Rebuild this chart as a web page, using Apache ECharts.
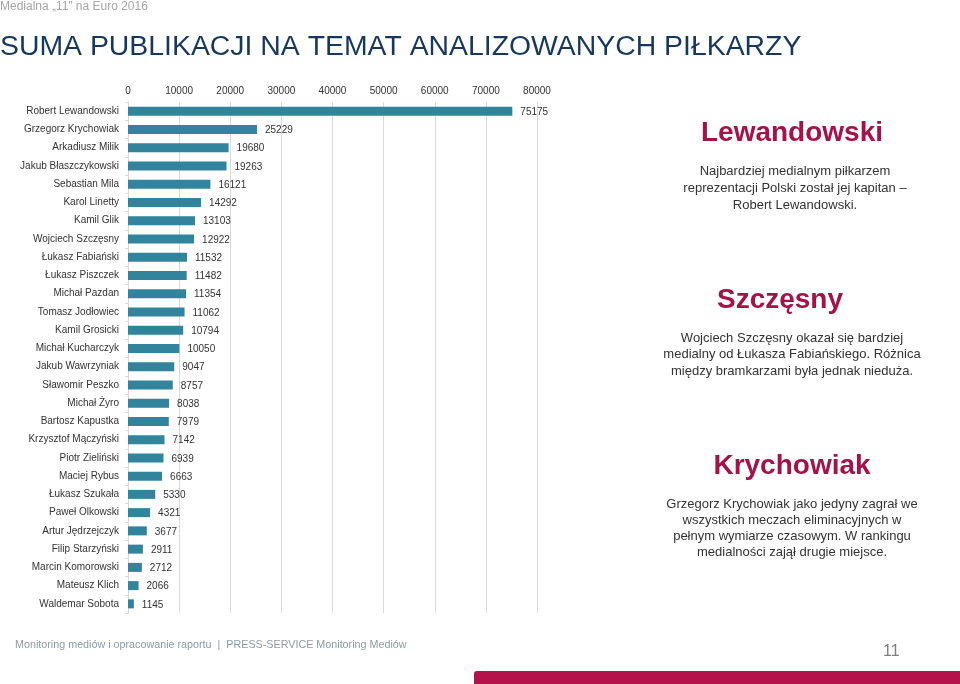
<!DOCTYPE html>
<html>
<head>
<meta charset="utf-8">
<script src="https://cdn.jsdelivr.net/npm/echarts@6/dist/echarts.min.js"></script>
<style>
html,body{margin:0;padding:0;background:#fff;}
#chart{width:960px;height:684px;}
</style>
</head>
<body>
<div id="chart"></div>
<script>
var categories = [
  "Robert Lewandowski","Grzegorz Krychowiak","Arkadiusz Milik","Jakub Błaszczykowski",
  "Sebastian Mila","Karol Linetty","Kamil Glik","Wojciech Szczęsny","Łukasz Fabiański",
  "Łukasz Piszczek","Michał Pazdan","Tomasz Jodłowiec","Kamil Grosicki","Michał Kucharczyk",
  "Jakub Wawrzyniak","Sławomir Peszko","Michał Żyro","Bartosz Kapustka","Krzysztof Mączyński",
  "Piotr Zieliński","Maciej Rybus","Łukasz Szukała","Paweł Olkowski","Artur Jędrzejczyk",
  "Filip Starzyński","Marcin Komorowski","Mateusz Klich","Waldemar Sobota"
];
var publications = [
  75175,25229,19680,19263,16121,14292,13103,12922,11532,
  11482,11354,11062,10794,10050,9047,8757,8038,7979,7142,
  6939,6663,5330,4321,3677,2911,2712,2066,1145
];
var axisTicks = [0,10000,20000,30000,40000,50000,60000,70000,80000];

var chart = echarts.init(document.getElementById('chart'), null, {renderer:'canvas'});
var FONT = '"Liberation Sans", Arial, sans-serif';
var option = {
  backgroundColor:'#ffffff',
  animation:false,
  textStyle:{fontFamily:FONT},
  grid:{left:128, top:102, width:409, height:511, containLabel:false},
  xAxis:{
    type:'value', position:'top',
    min:axisTicks[0], max:axisTicks[axisTicks.length-1], interval:axisTicks[1]-axisTicks[0],
    axisLine:{show:false}, axisTick:{show:false},
    axisLabel:{fontSize:10, color:'#333', margin:6, fontFamily:FONT, formatter:function(v){return String(v);}},
    splitLine:{show:true, lineStyle:{color:'#d9d9d9', width:1}}
  },
  yAxis:{
    type:'category', inverse:true, data:categories,
    axisLine:{show:true, lineStyle:{color:'#d9d9d9'}},
    axisTick:{show:true, length:3, lineStyle:{color:'#d9d9d9'}},
    axisLabel:{fontSize:10, color:'#333', margin:9, fontFamily:FONT}
  },
  series:[{
    type:'bar', data:publications, barWidth:9,
    itemStyle:{color:'#31849b'},
    label:{show:true, position:'right', distance:8, fontSize:10, color:'#333', fontFamily:FONT, offset:[0,1]}
  }],
  graphic:[
    {type:'text', left:0, top:1, style:{text:'Medialna „11” na Euro 2016', font:'12px '+FONT, fill:'#a6a6a6'}},
    {type:'text', left:0, top:33, style:{text:'SUMA PUBLIKACJI NA TEMAT ANALIZOWANYCH PIŁKARZY', font:'28.4px '+FONT, fill:'#17375e'}},

    {type:'text', x:792, y:133, style:{text:'Lewandowski', font:'bold 28px '+FONT, fill:'#a51249', align:'center', verticalAlign:'middle'}},
    {type:'text', x:795, y:163, style:{text:'Najbardziej medialnym piłkarzem\nreprezentacji Polski został jej kapitan –\nRobert Lewandowski.', font:'13px '+FONT, fill:'#333', align:'center', lineHeight:17}},

    {type:'text', x:780, y:300, style:{text:'Szczęsny', font:'bold 28px '+FONT, fill:'#a51249', align:'center', verticalAlign:'middle'}},
    {type:'text', x:792, y:330, style:{text:'Wojciech Szczęsny okazał się bardziej\nmedialny od Łukasza Fabiańskiego. Różnica\nmiędzy bramkarzami była jednak nieduża.', font:'13px '+FONT, fill:'#333', align:'center', lineHeight:16.5}},

    {type:'text', x:792, y:466, style:{text:'Krychowiak', font:'bold 28px '+FONT, fill:'#a51249', align:'center', verticalAlign:'middle'}},
    {type:'text', x:792, y:496, style:{text:'Grzegorz Krychowiak jako jedyny zagrał we\nwszystkich meczach eliminacyjnych w\npełnym wymiarze czasowym. W rankingu\nmedialności zajął drugie miejsce.', font:'13px '+FONT, fill:'#333', align:'center', lineHeight:16}},

    {type:'text', left:15, top:640, style:{text:'Monitoring mediów i opracowanie raportu  |  PRESS-SERVICE Monitoring Mediów', font:'10.75px '+FONT, fill:'#8c9ba6'}},
    {type:'text', left:883, top:644, style:{text:'11', font:'16px '+FONT, fill:'#7f7f7f'}},
    {type:'rect', shape:{x:474, y:671, width:486, height:13, r:[3,0,0,0]}, style:{fill:'#b3134a'}}
  ]
};
chart.setOption(option);
</script>
</body>
</html>
